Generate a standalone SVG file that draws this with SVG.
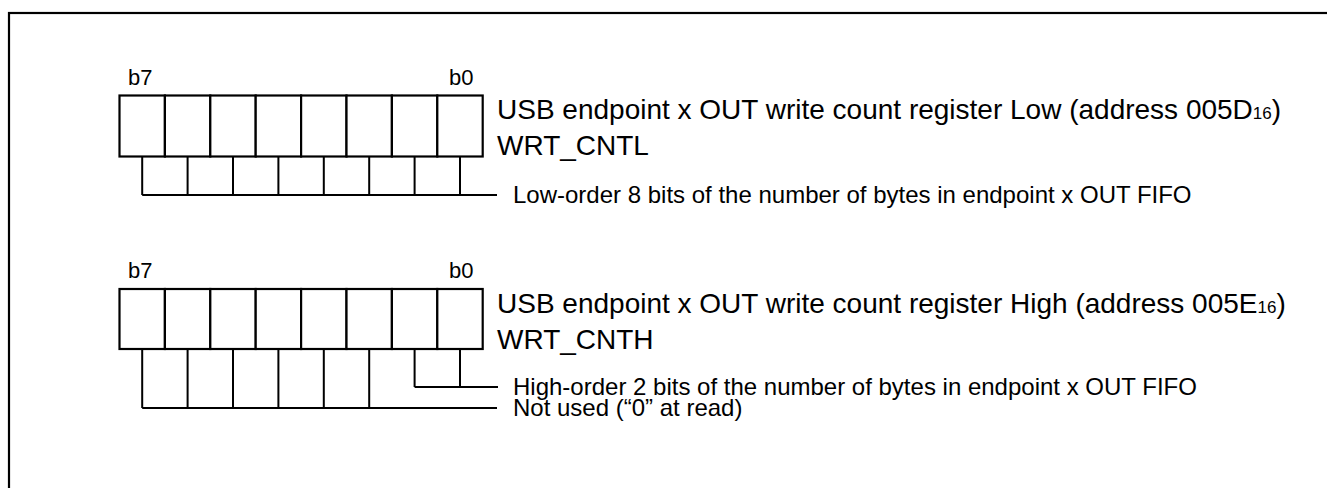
<svg xmlns="http://www.w3.org/2000/svg" width="1327" height="488" viewBox="0 0 1327 488">
<style>
.frame{fill:none;stroke:#000;stroke-width:2.2}
.box{fill:#fff;stroke:#000;stroke-width:2.2}
.ln{fill:none;stroke:#000;stroke-width:2}
text{font-family:"Liberation Sans",Arial,sans-serif;fill:#000}
.t{font-size:28px}
.d{font-size:24px}
.b{font-size:22px}
.s{font-size:17px}
</style>
<rect class="frame" x="9" y="13" width="1330" height="490"/>
<g id="reg-low">
<text class="b" x="128" y="85">b7</text>
<text class="b" x="449" y="85">b0</text>
<g>
<rect class="box" x="119.5" y="95.5" width="45.4" height="61"/>
<rect class="box" x="164.9" y="95.5" width="45.4" height="61"/>
<rect class="box" x="210.3" y="95.5" width="45.4" height="61"/>
<rect class="box" x="255.7" y="95.5" width="45.4" height="61"/>
<rect class="box" x="301.1" y="95.5" width="45.4" height="61"/>
<rect class="box" x="346.5" y="95.5" width="45.4" height="61"/>
<rect class="box" x="391.9" y="95.5" width="45.4" height="61"/>
<rect class="box" x="437.3" y="95.5" width="45.4" height="61"/>
</g>
<text class="t" x="497" y="119">USB endpoint x OUT write count register Low (address 005D<tspan class="s">16</tspan>)</text>
<text class="t" x="497" y="155">WRT_CNTL</text>
</g>
<g id="reg-high">
<text class="b" x="128" y="278">b7</text>
<text class="b" x="449" y="278">b0</text>
<g>
<rect class="box" x="119.5" y="289" width="45.4" height="60"/>
<rect class="box" x="164.9" y="289" width="45.4" height="60"/>
<rect class="box" x="210.3" y="289" width="45.4" height="60"/>
<rect class="box" x="255.7" y="289" width="45.4" height="60"/>
<rect class="box" x="301.1" y="289" width="45.4" height="60"/>
<rect class="box" x="346.5" y="289" width="45.4" height="60"/>
<rect class="box" x="391.9" y="289" width="45.4" height="60"/>
<rect class="box" x="437.3" y="289" width="45.4" height="60"/>
</g>
<text class="t" x="497" y="313">USB endpoint x OUT write count register High (address 005E<tspan class="s">16</tspan>)</text>
<text class="t" x="497" y="349">WRT_CNTH</text>
</g>
<g id="connectors">
<path class="ln" d="M142.2,156.5V195 M187.6,156.5V195 M233,156.5V195 M278.4,156.5V195 M323.8,156.5V195 M369.2,156.5V195 M414.6,156.5V195 M460,156.5V195 M142.2,195H497"/>
<path class="ln" d="M414.6,349V387 M460,349V387 M414.6,387H498"/>
<path class="ln" d="M142.2,349V408 M187.6,349V408 M233,349V408 M278.4,349V408 M323.8,349V408 M369.2,349V408 M142.2,408H497"/>
</g>
<g id="labels">
<text class="d" x="513" y="203">Low-order 8 bits of the number of bytes in endpoint x OUT FIFO</text>
<text class="d" x="513" y="395">High-order 2 bits of the number of bytes in endpoint x OUT FIFO</text>
<text class="d" x="513" y="416">Not used (“0” at read)</text>
</g>
</svg>
